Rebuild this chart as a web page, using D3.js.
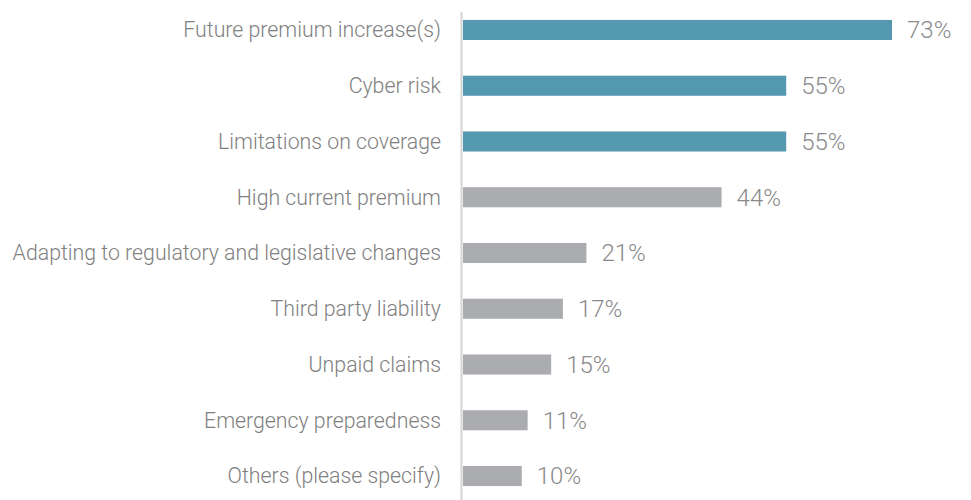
<!DOCTYPE html>
<html>
<head>
<meta charset="utf-8">
<script src="https://cdn.jsdelivr.net/npm/d3@7"></script>
<style>
  body { margin: 0; background: #fff; }
  text { font-family: "Roboto Light", Roboto, "Noto Sans", sans-serif; font-weight: 300; }
</style>
</head>
<body>
<div id="chart"></div>
<script>
// data
var categories = ["Future premium increase(s)", "Cyber risk", "Limitations on coverage",
  "High current premium", "Adapting to regulatory and legislative changes",
  "Third party liability", "Unpaid claims", "Emergency preparedness", "Others (please specify)"];
var values = [73, 55, 55, 44, 21, 17, 15, 11, 10];
var highlighted = [true, true, true, false, false, false, false, false, false];

var width = 971, height = 500;
var left = 463;

var svg = d3.select("#chart")
  .append("svg")
  .attr("width", width)
  .attr("height", height);

var x = d3.scaleLinear()
  .domain([0, 73])
  .range([left, 892]);

var y = d3.scaleBand()
  .domain(categories)
  .range([2.1, 503.9])
  .paddingInner(0.64)
  .paddingOuter(0.32);

var data = categories.map(function(c, i) {
  return {name: c, value: values[i], hl: highlighted[i]};
});

// bars
svg.selectAll(".bar")
  .data(data)
  .enter()
  .append("rect")
  .attr("class", "bar")
  .attr("x", x(0))
  .attr("y", function(d) { return y(d.name); })
  .attr("width", function(d) { return x(d.value) - x(0); })
  .attr("height", y.bandwidth())
  .attr("fill", function(d) { return d.hl ? "#5499b0" : "#abacb0"; });

// vertical axis line
svg.append("line")
  .attr("x1", 461.5).attr("x2", 461.5)
  .attr("y1", 12).attr("y2", 500)
  .attr("stroke", "#d4d4d4")
  .attr("stroke-width", 2);

// category labels
svg.selectAll(".label")
  .data(data)
  .enter()
  .append("text")
  .attr("class", "label")
  .attr("x", 441)
  .attr("y", function(d) { return y(d.name) + y.bandwidth() / 2; })
  .attr("dy", "0.35em")
  .attr("text-anchor", "end")
  .attr("font-size", 21.3)
  .attr("fill", "#808080")
  .text(function(d) { return d.name; });

// value labels
svg.selectAll(".value")
  .data(data)
  .enter()
  .append("text")
  .attr("class", "value")
  .attr("x", function(d) { return x(d.value) + 15; })
  .attr("y", function(d) { return y(d.name) + y.bandwidth() / 2; })
  .attr("dy", "0.35em")
  .attr("font-size", 24)
  .attr("fill", "#8a8a8a")
  .text(function(d) { return d.value + "%"; });
</script>
</body>
</html>
